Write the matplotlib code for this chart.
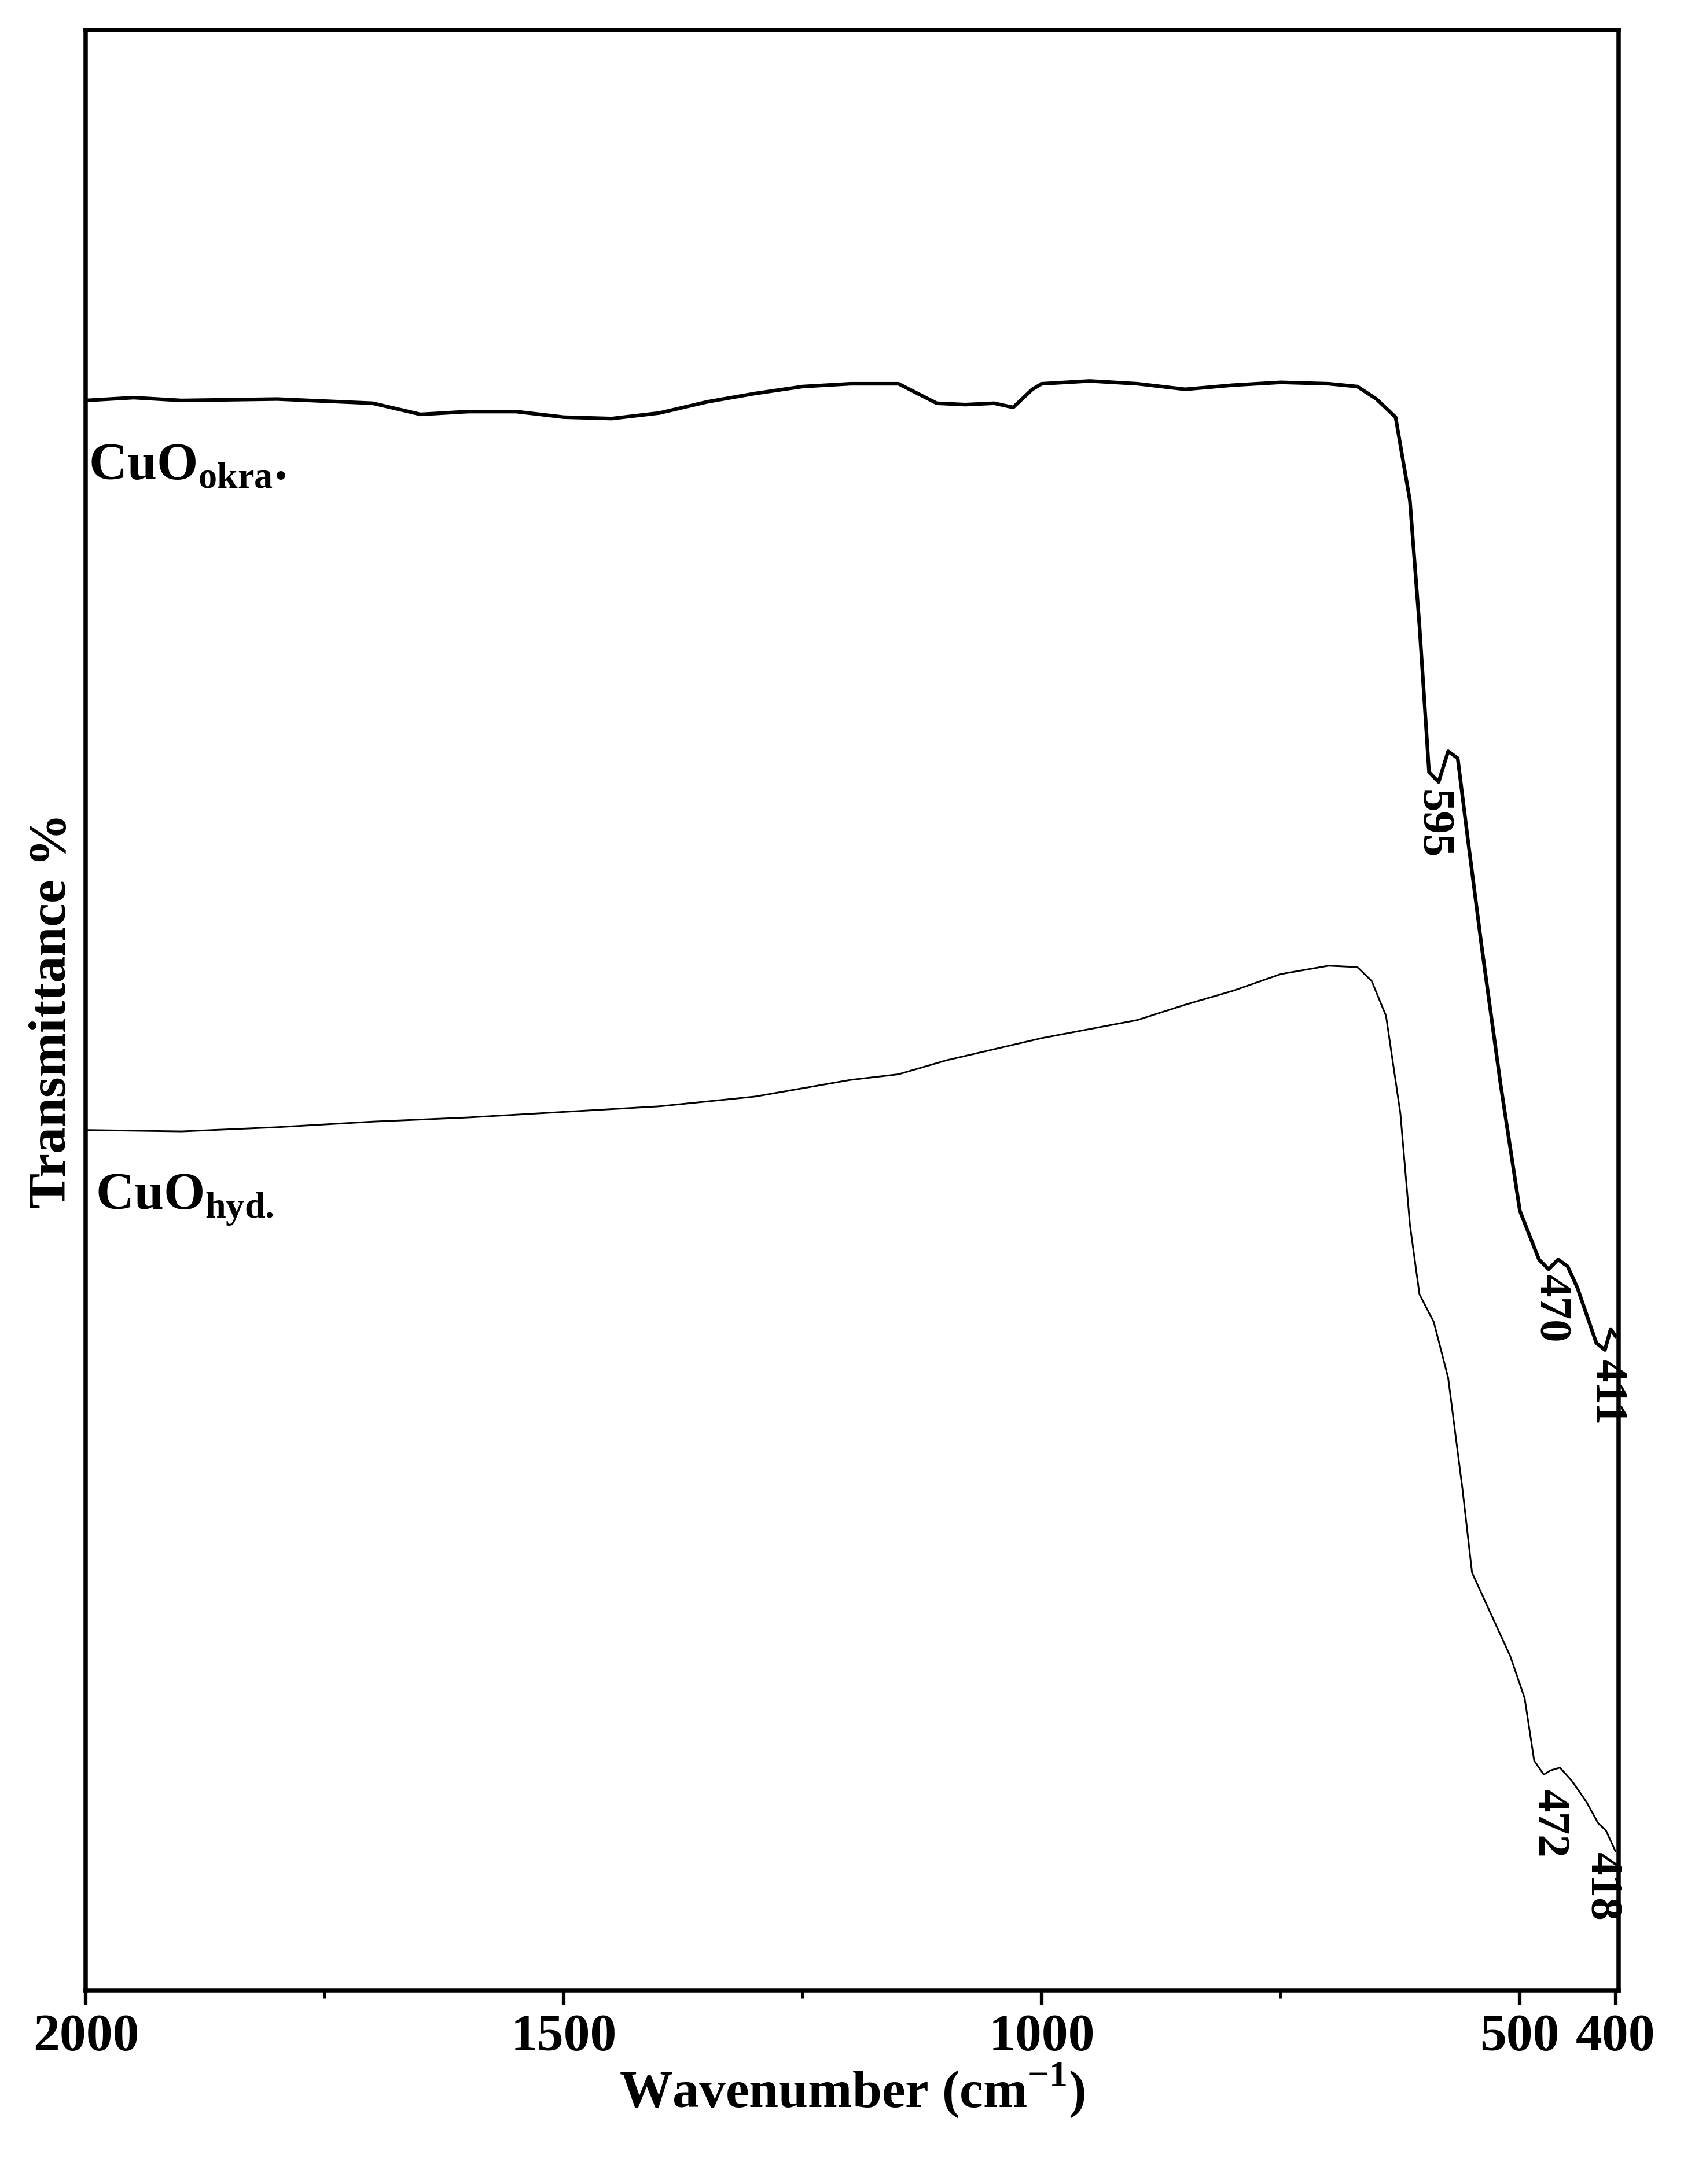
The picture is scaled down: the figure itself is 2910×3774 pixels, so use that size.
import matplotlib.pyplot as plt

plt.rcParams['font.family'] = ['Liberation Serif', 'DejaVu Serif']
plt.rcParams['font.weight'] = 'bold'
plt.rcParams['mathtext.fontset'] = 'custom'
plt.rcParams['mathtext.rm'] = 'Liberation Serif:bold'
plt.rcParams['mathtext.bf'] = 'Liberation Serif:bold'

# spectra (y in arbitrary transmittance units, larger = lower on plot)
wn_okra = [2000, 1950, 1900, 1800, 1700, 1650, 1600, 1550, 1500, 1450, 1400, 1350, 1300,
           1250, 1200, 1150, 1110, 1080, 1050, 1030, 1010, 1000, 950, 900, 850, 800, 750,
           700, 670, 650, 630, 615, 605, 595, 585, 575, 565, 555, 540, 520, 500, 480, 470,
           460, 450, 440, 430, 420, 411, 405, 400]
t_okra = [288, 286, 288, 287, 290, 298, 296, 296, 300, 301, 297, 289, 283,
          278, 276, 276, 290, 291, 290, 293, 280, 276, 274, 276, 280, 277, 275,
          276, 278, 287, 300, 360, 450, 555, 562, 540, 545, 600, 680, 780, 870, 905, 912,
          905, 910, 925, 945, 965, 970, 955, 960]

wn_hyd = [2000, 1900, 1800, 1700, 1600, 1500, 1400, 1300, 1200, 1150, 1100, 1000, 900,
          850, 800, 750, 700, 670, 655, 640, 625, 615, 605, 590, 575, 560, 550, 530, 510,
          495, 485, 475, 468, 458, 445, 430, 418, 410, 400]
t_hyd = [812, 813, 810, 806, 803, 799, 795, 788, 776, 772, 762, 746, 733,
         722, 712, 700, 694, 695, 705, 730, 800, 880, 930, 950, 990, 1070, 1130, 1160, 1190,
         1220, 1265, 1275, 1272, 1270, 1280, 1295, 1310, 1315, 1330]

peaks_okra = [(592, 592, '595'), (468, 940, '470'), (409, 1000, '411')]
peaks_hyd = [(470, 1310, '472'), (415, 1355, '418')]

fig = plt.figure(figsize=(9.7, 12.583), dpi=300)
ax = fig.add_axes([0.051, 0.0886, 0.910, 0.8974])

ax.plot(wn_okra, t_okra, color='black', lw=1.5)
ax.plot(wn_hyd, t_hyd, color='black', lw=0.7)

for x, y, s in peaks_okra + peaks_hyd:
    ax.text(x, y, s, rotation=270, ha='center', va='center', fontsize=19, fontweight='bold')

ax.text(1997, 335, r'CuO$_{\mathregular{okra}}$.', fontsize=22, fontweight='bold', va='center')
ax.text(1990, 862, r'CuO$_{\mathregular{hyd.}}$', fontsize=22, fontweight='bold', va='center')

ax.set_xlim(2000, 397)
ax.set_ylim(1430, 22)
ax.set_xticks([2000, 1500, 1000, 500, 400])
ax.set_xticklabels(['2000', '1500', '1000', '500', '400'], fontsize=22, fontweight='bold')
ax.set_xticks([1750, 1250, 750], minor=True)
ax.tick_params(axis='x', which='major', length=6, width=1.5, direction='out')
ax.tick_params(axis='x', which='minor', length=3, width=1.2, direction='out')
ax.set_yticks([])
for sp in ax.spines.values():
    sp.set_linewidth(1.8)
ax.set_xlabel('Wavenumber (cm$^{-1}$)', fontsize=22, fontweight='bold', labelpad=0)
ax.set_ylabel('Transmittance %', fontsize=22, fontweight='bold', labelpad=4)

fig.savefig('out.png', dpi=300)
